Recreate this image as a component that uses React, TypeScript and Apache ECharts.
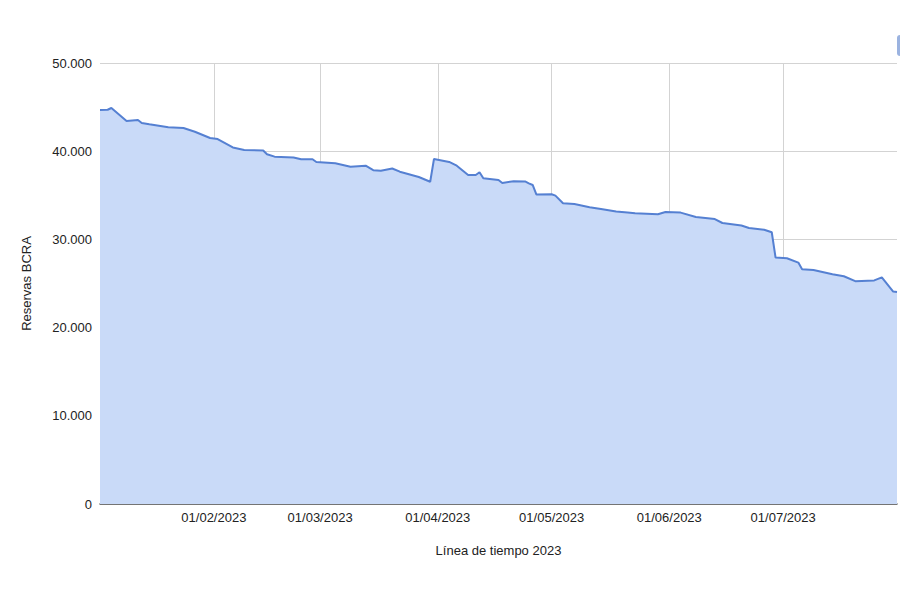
import React, { useEffect, useRef } from "react";
import * as echarts from "echarts";

const dates: string[] = [
  "2023-01-02", "2023-01-04", "2023-01-05", "2023-01-09", "2023-01-12", "2023-01-13",
  "2023-01-15", "2023-01-20", "2023-01-24", "2023-01-27", "2023-01-31", "2023-02-02",
  "2023-02-06", "2023-02-09", "2023-02-14", "2023-02-15", "2023-02-17", "2023-02-22",
  "2023-02-24", "2023-02-27", "2023-02-28", "2023-03-05", "2023-03-09", "2023-03-13",
  "2023-03-15", "2023-03-17", "2023-03-20", "2023-03-22", "2023-03-27", "2023-03-30",
  "2023-03-31", "2023-04-04", "2023-04-06", "2023-04-09", "2023-04-11", "2023-04-12",
  "2023-04-13", "2023-04-17", "2023-04-18", "2023-04-21", "2023-04-24", "2023-04-25",
  "2023-04-26", "2023-04-27", "2023-05-01", "2023-05-02", "2023-05-04", "2023-05-07",
  "2023-05-11", "2023-05-14", "2023-05-18", "2023-05-21", "2023-05-23", "2023-05-29",
  "2023-05-31", "2023-06-04", "2023-06-08", "2023-06-13", "2023-06-15", "2023-06-20",
  "2023-06-22", "2023-06-26", "2023-06-28", "2023-06-29", "2023-07-02", "2023-07-05",
  "2023-07-06", "2023-07-09", "2023-07-14", "2023-07-17", "2023-07-20", "2023-07-25",
  "2023-07-27", "2023-07-30", "2023-07-31",
];

const reservas: number[] = [
  44670, 44700, 44900, 43420, 43540, 43200,
  43050, 42710, 42630, 42210, 41500, 41380,
  40420, 40140, 40080, 39660, 39380, 39290,
  39080, 39090, 38780, 38640, 38240, 38360,
  37850, 37790, 38040, 37680, 37080, 36540,
  39120, 38780, 38360, 37300, 37300, 37610,
  36930, 36740, 36400, 36590, 36570, 36360,
  36170, 35090, 35120, 34960, 34090, 34010,
  33640, 33450, 33160, 33050, 32960, 32860,
  33110, 33040, 32540, 32310, 31860, 31580,
  31290, 31100, 30810, 27950, 27860, 27370,
  26620, 26530, 26060, 25820, 25260, 25350,
  25700, 24090, 24040,
];

const yTicks: number[] = [0, 10000, 20000, 30000, 40000, 50000];
const xAxisTitle = "Línea de tiempo 2023";
const yAxisTitle = "Reservas BCRA";

const pad = (n: number) => (n < 10 ? "0" + n : "" + n);
const fmtThousands = (v: number) =>
  String(Math.round(v)).replace(/\B(?=(\d{3})+(?!\d))/g, ".");

export default function App() {
  const ref = useRef<HTMLDivElement>(null);
  useEffect(() => {
    if (!ref.current) return;
    const chart = echarts.init(ref.current, null, { renderer: "svg" });
    const font = "'Liberation Sans', Arial, sans-serif";
    chart.setOption({
      animation: false,
      textStyle: { fontFamily: font },
      grid: { left: 100, right: 3, top: 63, bottom: 96, containLabel: false },
      xAxis: {
        type: "time",
        min: "2023-01-02",
        max: "2023-07-31",
        splitNumber: 7,
        minInterval: 28 * 86400000,
        maxInterval: 31 * 86400000,
        name: xAxisTitle,
        nameLocation: "middle",
        nameGap: 40,
        nameTextStyle: { color: "#222", fontSize: 13, fontFamily: font },
        axisLine: { show: true, lineStyle: { color: "#555", width: 1.5 } },
        axisTick: { show: false },
        axisLabel: {
          color: "#222",
          fontSize: 13,
          fontFamily: font,
          margin: 7,
          hideOverlap: false,
          formatter: (val: number) => {
            const d = new Date(val);
            if (d.getDate() !== 1) return "";
            return pad(d.getDate()) + "/" + pad(d.getMonth() + 1) + "/" + d.getFullYear();
          },
        },
        splitLine: {
          show: true,
          showMinLine: false,
          showMaxLine: false,
          lineStyle: { color: "#d3d3d3", width: 1 },
        },
      },
      yAxis: {
        type: "value",
        min: yTicks[0],
        max: yTicks[yTicks.length - 1],
        interval: 10000,
        name: yAxisTitle,
        nameLocation: "middle",
        nameGap: 67,
        nameRotate: 90,
        nameTextStyle: { color: "#222", fontSize: 13, fontFamily: font },
        axisLine: { show: false },
        axisTick: { show: false },
        axisLabel: {
          color: "#222",
          fontSize: 13,
          fontFamily: font,
          margin: 8,
          formatter: (v: number) => fmtThousands(v),
        },
        splitLine: { show: true, lineStyle: { color: "#d3d3d3", width: 1 } },
      },
      series: [
        {
          type: "line",
          name: yAxisTitle,
          data: dates.map((d, i) => [d, reservas[i]]),
          showSymbol: false,
          smooth: false,
          lineStyle: { color: "#5580d2", width: 2 },
          itemStyle: { color: "#5580d2" },
          areaStyle: { color: "#c9daf8", opacity: 1 },
          z: 3,
        },
      ],
      graphic: [
        {
          type: "line",
          z: 2,
          silent: true,
          shape: { x1: 100, y1: 64.5, x2: 100, y2: 140 },
          style: { stroke: "#ffffff", lineWidth: 2.5 },
        },
        {
          type: "rect",
          left: 897,
          top: 35,
          shape: { width: 10, height: 21, r: 3 },
          style: { fill: "#9bb3e0" },
        },
      ],
    });
    return () => chart.dispose();
  }, []);
  return (
    <div
      ref={ref}
      style={{ position: "fixed", left: 0, top: 0, width: 900, height: 600, background: "#fff" }}
    />
  );
}
